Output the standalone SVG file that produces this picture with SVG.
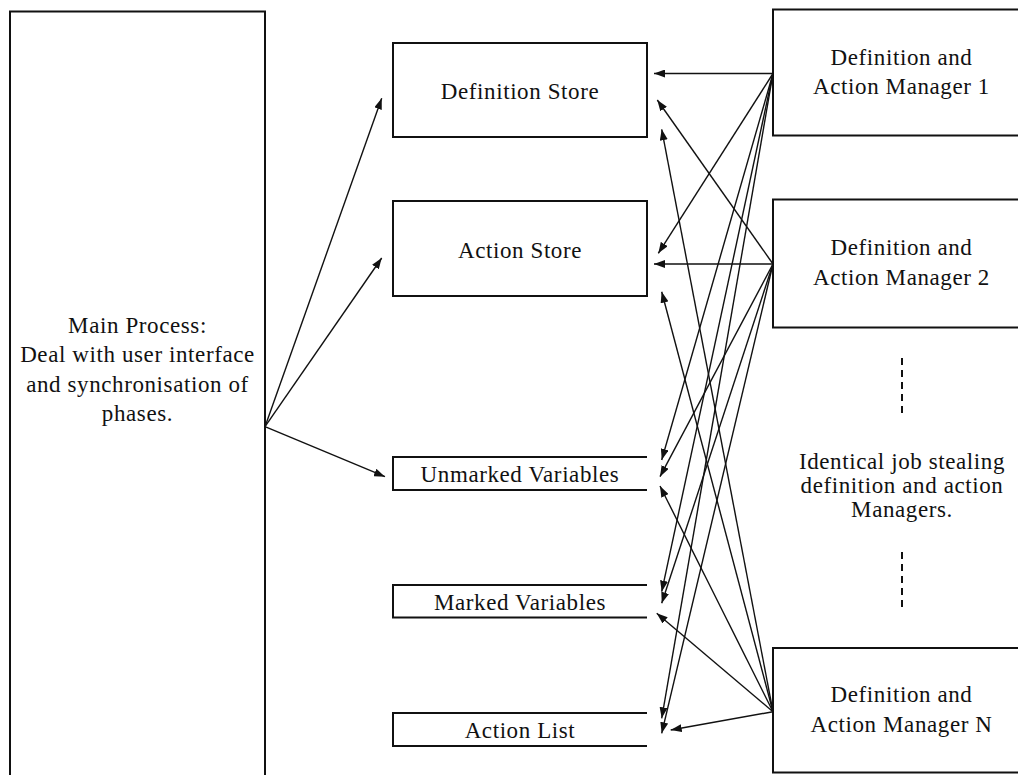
<svg xmlns="http://www.w3.org/2000/svg" width="1018" height="775" viewBox="0 0 1018 775">
<style>
  .box { fill: #fff; stroke: #111; stroke-width: 2; }
  .open { fill: none; stroke: #111; stroke-width: 2; }
  .t { font-family: "Liberation Serif", "Times New Roman", serif; font-size: 23px; letter-spacing: 0.6px; fill: #111; text-anchor: middle; }
  .c line { stroke: #111; stroke-width: 1.4; marker-end: url(#ah); }
  .dash { stroke: #111; stroke-width: 2; stroke-dasharray: 7 5; }
</style>
<defs>
  <marker id="ah" markerUnits="userSpaceOnUse" markerWidth="11" markerHeight="8" refX="11" refY="4" orient="auto">
    <path d="M0,0 L11,4 L0,8 z" fill="#111"/>
  </marker>
</defs>
<rect width="1018" height="775" fill="#fff"/>

<g id="main-process">
  <rect class="box" x="10" y="11.5" width="255" height="790"/>
  <text class="t" x="137.5" y="333">Main Process:</text>
  <text class="t" x="137.5" y="362">Deal with user interface</text>
  <text class="t" x="137.5" y="391.5">and synchronisation of</text>
  <text class="t" x="137.5" y="420.5">phases.</text>
</g>

<g id="definition-store">
  <rect class="box" x="393" y="43" width="254" height="94"/>
  <text class="t" x="520" y="99">Definition Store</text>
</g>

<g id="action-store">
  <rect class="box" x="393" y="201" width="254" height="95"/>
  <text class="t" x="520" y="258">Action Store</text>
</g>

<g id="unmarked-variables">
  <path class="open" d="M647,457 H393 V490 H647"/>
  <text class="t" x="520" y="481.5">Unmarked Variables</text>
</g>

<g id="marked-variables">
  <path class="open" d="M647,585 H393 V617.5 H647"/>
  <text class="t" x="520" y="610">Marked Variables</text>
</g>

<g id="action-list">
  <path class="open" d="M647,713 H393 V746 H647"/>
  <text class="t" x="520" y="738">Action List</text>
</g>

<g id="manager-1">
  <rect class="box" x="773" y="9.5" width="260" height="126"/>
  <text class="t" x="901.5" y="64.5">Definition and</text>
  <text class="t" x="901.5" y="94">Action Manager 1</text>
</g>

<g id="manager-2">
  <rect class="box" x="773" y="199.5" width="260" height="128"/>
  <text class="t" x="901.5" y="255">Definition and</text>
  <text class="t" x="901.5" y="285">Action Manager 2</text>
</g>

<g id="identical-note">
  <line class="dash" x1="902" y1="358" x2="902" y2="416"/>
  <text class="t" x="902" y="468.5">Identical job stealing</text>
  <text class="t" x="902" y="492.5">definition and action</text>
  <text class="t" x="902" y="516.5">Managers.</text>
  <line class="dash" x1="902" y1="552" x2="902" y2="608"/>
</g>

<g id="manager-n">
  <rect class="box" x="773" y="648" width="260" height="124.5"/>
  <text class="t" x="901.5" y="701.5">Definition and</text>
  <text class="t" x="901.5" y="731.5">Action Manager N</text>
</g>

<g id="connectors" class="c">
  <line x1="265" y1="426.7" x2="381.7" y2="98.3"/>
  <line x1="265" y1="426.7" x2="381.7" y2="258"/>
  <line x1="265" y1="426.7" x2="385" y2="476.7"/>

  <line x1="773" y1="73.5" x2="654" y2="73.5"/>
  <line x1="773" y1="73.5" x2="658.3" y2="253.3"/>
  <line x1="773" y1="73.5" x2="661.7" y2="460"/>
  <line x1="773" y1="73.5" x2="661.7" y2="591.7"/>
  <line x1="773" y1="73.5" x2="661.7" y2="718.3"/>

  <line x1="773" y1="264" x2="654" y2="264"/>
  <line x1="773" y1="264" x2="657.3" y2="100"/>
  <line x1="773" y1="264" x2="660" y2="476.7"/>
  <line x1="773" y1="264" x2="661.7" y2="603.3"/>
  <line x1="773" y1="264" x2="661.7" y2="733.3"/>

  <line x1="773" y1="711.7" x2="670.7" y2="730"/>
  <line x1="773" y1="711.7" x2="656.7" y2="613.3"/>
  <line x1="773" y1="711.7" x2="660" y2="486"/>
  <line x1="773" y1="711.7" x2="661.7" y2="291.7"/>
  <line x1="773" y1="711.7" x2="661.7" y2="129.3"/>
</g>
</svg>
